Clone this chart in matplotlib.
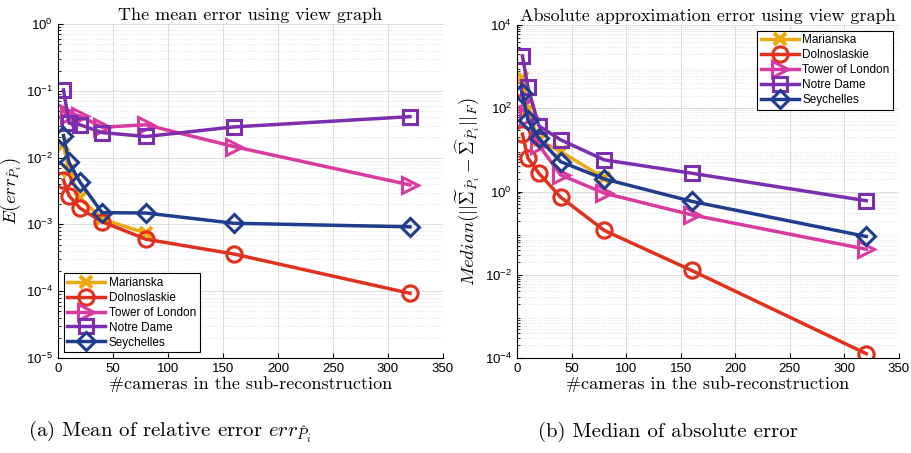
import matplotlib
matplotlib.use("Agg")
import matplotlib.pyplot as plt

plt.rcParams["font.family"] = ["Liberation Sans", "DejaVu Sans"]
plt.rcParams["mathtext.fontset"] = "custom"
plt.rcParams["mathtext.rm"] = "Liberation Sans"
plt.rcParams["mathtext.it"] = "Liberation Sans:italic"

# 데이터
cams = [5, 10, 20, 40, 80, 160, 320]
names = ["Marianska", "Dolnoslaskie", "Tower of London", "Notre Dame", "Seychelles"]

# (a) mean relative error
mean_marianska = [0.0155, 0.0062, 0.0025, 0.0012, 0.00074]
mean_dolnoslaskie = [0.0046, 0.0027, 0.00175, 0.0011, 0.0006, 0.00036, 0.000093]
mean_tower = [0.05, 0.044, 0.042, 0.0285, 0.031, 0.0146, 0.0039]
mean_notre = [0.103, 0.0327, 0.031, 0.0237, 0.0207, 0.0288, 0.041]
mean_seychelles = [0.0214, 0.0085, 0.0043, 0.0015, 0.00148, 0.00104, 0.00092]

# (b) median absolute error
med_marianska = [525, 91, 17, 9.1, 2.1]
med_dolnoslaskie = [24, 6.3, 2.75, 0.73, 0.116, 0.0127, 0.000127]
med_tower = [150, 60, 13, 2.5, 0.91, 0.275, 0.041]
med_notre = [1800, 320, 37.7, 17.4, 5.75, 2.75, 0.6]
med_seychelles = [230, 52, 19, 5.2, 2.0, 0.58, 0.083]

colors = ["#EDAA10", "#E0301E", "#D93AA0", "#7B2FAE", "#1F3D8C"]
markers = ["x", "o", ">", "s", "D"]
msizes = [9, 11, 11, 10, 9]
mews = [3, 2.2, 2.2, 2.2, 2.2]

serif = "cmr10"

fig = plt.figure(figsize=(9.12, 4.53), dpi=100)
ax1 = fig.add_axes([58 / 912, 1 - 358 / 453, 385 / 912, 334 / 453])
ax2 = fig.add_axes([517 / 912, 1 - 358 / 453, 382 / 912, 333 / 453])


def draw(ax, series, ylim, title, ylabel, legend_loc):
    for i, ys in enumerate(series):
        ax.plot(cams[:len(ys)], ys, color=colors[i], lw=2.5, marker=markers[i],
                ms=msizes[i], mfc="none", mec=colors[i], mew=mews[i], label=names[i])
    ax.set_yscale("log")
    ax.set_xlim(0, 350)
    ax.set_ylim(*ylim)
    ax.set_xticks(range(0, 351, 50))
    ax.grid(True, which="major", color="#dddddd", lw=0.7)
    ax.grid(True, which="minor", color="#dddddd", lw=0.6, ls=":")
    ax.tick_params(which="both", direction="in", labelsize=9.5, top=False, right=False)
    ax.tick_params(axis="x", which="minor", bottom=False)
    for s in ["top", "right"]:
        ax.spines[s].set_visible(False)
    ax.set_title(title, fontsize=13, family=serif, pad=3)
    ax.set_xlabel("#cameras in the sub-reconstruction", fontsize=13, family=serif, labelpad=1)
    ax.set_ylabel(ylabel, fontsize=13.5, math_fontfamily="cm", labelpad=2)
    leg = ax.legend(loc=legend_loc, fontsize=8.5, handlelength=3.2, fancybox=False,
                    edgecolor="black", framealpha=1, borderpad=0.3, labelspacing=0.25,
                    handletextpad=0.3)
    leg.get_frame().set_linewidth(0.8)


draw(ax1, [mean_marianska, mean_dolnoslaskie, mean_tower, mean_notre, mean_seychelles],
     (1e-5, 1), "The mean error using view graph",
     r"$E(err_{\hat{P}_i})$", "lower left")
draw(ax2, [med_marianska, med_dolnoslaskie, med_tower, med_notre, med_seychelles],
     (1e-4, 1e4), "Absolute approximation error using view graph",
     r"$Median(||\widetilde{\Sigma}_{\hat{P}_i} - \widehat{\Sigma}_{\hat{P}_i}||_F)$", "upper right")
ax2.set_yticks([1e-4, 1e-2, 1, 1e2, 1e4])

fig.text(170 / 912, 1 - 432 / 453, r"(a) Mean of relative error $err_{\hat{P}_i}$",
         fontsize=15, family=serif, math_fontfamily="cm", ha="center", va="center")
fig.text(668 / 912, 1 - 432 / 453, "(b) Median of absolute error",
         fontsize=15, family=serif, ha="center", va="center")

fig.savefig("out.png", dpi=100)
